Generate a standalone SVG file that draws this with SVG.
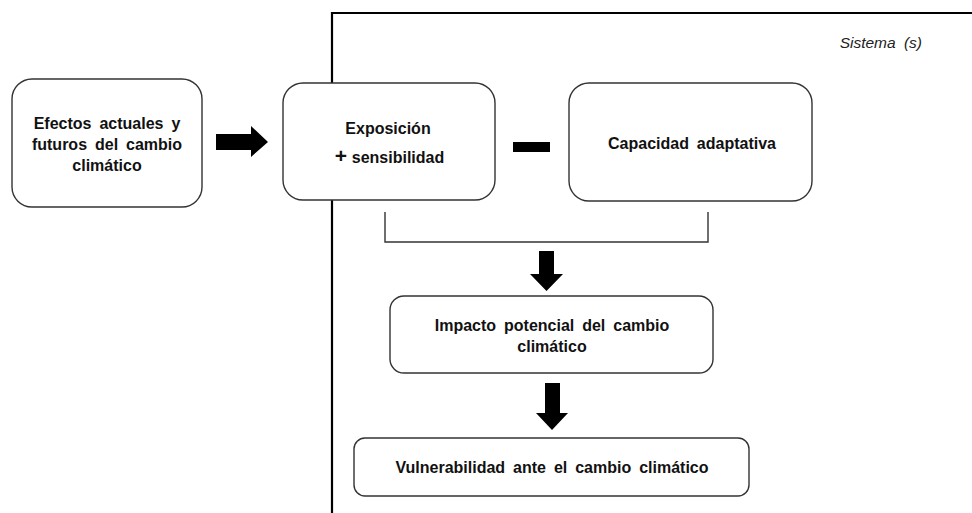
<svg xmlns="http://www.w3.org/2000/svg" width="972" height="513" viewBox="0 0 972 513">
<style>
.box{fill:#fff;stroke:#333;stroke-width:1.4}
.t{font-family:"Liberation Sans",Arial,sans-serif;font-weight:bold;font-size:16px;word-spacing:3.5px;fill:#111;text-anchor:middle}
.conn{fill:none;stroke:#333;stroke-width:1.4}
.arr{fill:#000}
</style>
<rect width="972" height="513" fill="#fff"/>
<g id="frame">
<path d="M332,513 V13 H972" fill="none" stroke="#000" stroke-width="2.2"/>
<text x="922" y="48" font-family="Liberation Sans,Arial,sans-serif" font-style="italic" font-size="15.5" word-spacing="4" fill="#222" text-anchor="end">Sistema (s)</text>
</g>
<g id="efectos">
<rect class="box" x="12" y="79" width="190" height="128" rx="20" stroke="#555"/>
<text class="t"><tspan x="107" y="129">Efectos actuales y</tspan><tspan x="107" y="150">futuros del cambio</tspan><tspan x="107" y="171">climático</tspan></text>
</g>
<g id="exposicion">
<rect class="box" x="283" y="83" width="212" height="117" rx="20"/>
<text class="t" x="388" y="134">Exposición</text>
<text class="t" x="341" y="163" style="font-size:21px">+</text>
<text class="t" x="398" y="163">sensibilidad</text>
</g>
<g id="capacidad">
<rect class="box" x="569" y="83" width="243" height="118" rx="20"/>
<text class="t" x="692" y="149">Capacidad adaptativa</text>
</g>
<g id="impacto">
<rect class="box" x="390" y="296" width="323" height="77" rx="14"/>
<text class="t"><tspan x="552" y="331">Impacto potencial del cambio</tspan><tspan x="552" y="352">climático</tspan></text>
</g>
<g id="vulnerabilidad">
<rect class="box" x="354" y="438" width="395" height="58" rx="11"/>
<text class="t" x="552" y="473">Vulnerabilidad ante el cambio climático</text>
</g>
<g id="connectors">
<polygon class="arr" points="216,134 251,134 251,126 268,142 251,157 251,150 216,150"/>
<rect class="arr" x="513" y="142" width="37" height="10"/>
<path class="conn" d="M385,212 V242 H708 V212"/>
<polygon class="arr" points="539,251 554,251 554,274 563,274 546.5,291 530,274 539,274"/>
<polygon class="arr" points="545,383 560,383 560,413 568,413 552,430 536,413 545,413"/>
</g>
</svg>
